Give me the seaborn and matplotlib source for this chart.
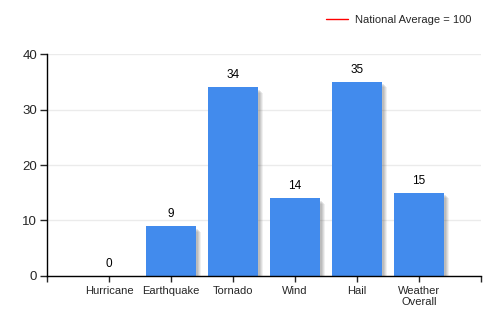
import matplotlib
matplotlib.use("Agg")
import matplotlib.pyplot as plt
import matplotlib.patheffects as pe
import seaborn as sns
import pandas as pd

categories = ["Hurricane", "Earthquake", "Tornado", "Wind", "Hail", "Weather\nOverall"]
scores = [0, 9, 34, 14, 35, 15]
national_average = 100
y_ticks = [0, 10, 20, 30, 40]

sns.set_style("white")
plt.rcParams["font.family"] = ["Liberation Sans", "DejaVu Sans"]

df = pd.DataFrame({"category": categories, "score": scores})

fig = plt.figure(figsize=(5, 3.25), dpi=100)
ax = fig.add_axes([0.094, 0.1508, 0.868, 0.683])

sns.barplot(data=df, x="category", y="score", color="#428BED", saturation=1,
            width=0.8, ax=ax, zorder=3)

# soft drop shadow built from a few stacked translucent copies
shadow = [pe.SimplePatchShadow(offset=(d, -d), shadow_rgbFace="#606060", alpha=a)
          for d, a in ((4.0, 0.09), (3.3, 0.12), (2.6, 0.14), (1.8, 0.14))]
for bar in ax.patches:
    bar.set_linewidth(0)
    bar.set_path_effects(shadow + [pe.Normal()])

for i, v in enumerate(scores):
    ax.text(i, v + 1.1, f"{v}", ha="center", va="bottom", fontsize=8.5, color="black")

ax.axhline(national_average, color="red", linewidth=1, label="National Average = 100")

ax.set_xlim(-1, len(categories))
ax.set_ylim(0, 40)
ax.set_yticks(y_ticks)
ax.set_xticks(range(-1, len(categories) + 1))
ax.set_xticklabels([""] + categories + [""], fontsize=8, linespacing=1.1)
ax.tick_params(axis="y", labelsize=9.5, length=5, width=1, direction="out", left=True, pad=2)
ax.tick_params(axis="x", length=4, width=1, direction="out", bottom=True, pad=3)
ax.yaxis.grid(True, color="#ebebeb", linewidth=1, zorder=0)
ax.set_axisbelow(True)
ax.set_xlabel("")
ax.set_ylabel("")
for side in ("top", "right"):
    ax.spines[side].set_visible(False)
for side in ("left", "bottom"):
    ax.spines[side].set_color("black")
    ax.spines[side].set_linewidth(1)
    ax.spines[side].set_zorder(5)

fig.legend(loc="upper right", bbox_to_anchor=(0.962, 0.985), frameon=False,
           fontsize=8, handlelength=2.0, handletextpad=0.6)

fig.savefig("out.png", dpi=100)
